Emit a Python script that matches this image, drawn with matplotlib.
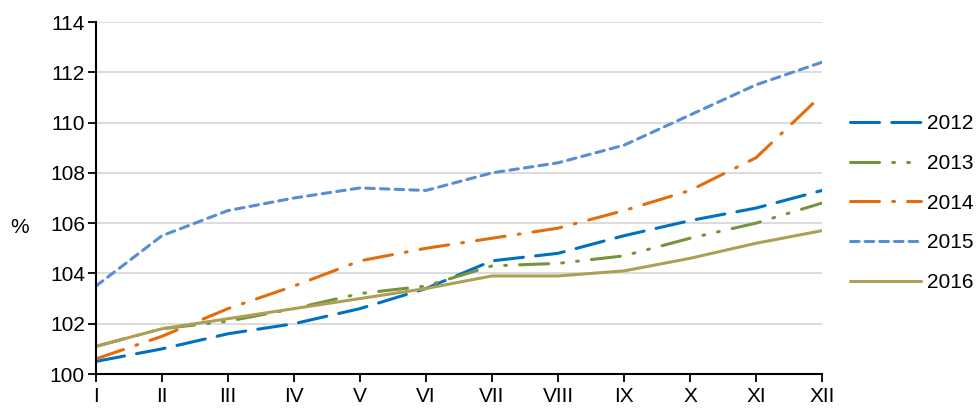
import matplotlib
matplotlib.use('Agg')
import matplotlib.pyplot as plt

plt.rcParams['font.family'] = ['Liberation Sans', 'DejaVu Sans']

# months and index values (%)
months = ['I', 'II', 'III', 'IV', 'V', 'VI', 'VII', 'VIII', 'IX', 'X', 'XI', 'XII']
y2012 = [100.5, 101.0, 101.6, 102.0, 102.6, 103.4, 104.5, 104.8, 105.5, 106.1, 106.6, 107.3]
y2013 = [101.1, 101.8, 102.1, 102.6, 103.2, 103.5, 104.3, 104.4, 104.7, 105.4, 106.0, 106.8]
y2014 = [100.6, 101.5, 102.6, 103.5, 104.5, 105.0, 105.4, 105.8, 106.5, 107.3, 108.6, 111.1]
y2015 = [103.5, 105.5, 106.5, 107.0, 107.4, 107.3, 108.0, 108.4, 109.1, 110.3, 111.5, 112.4]
y2016 = [101.1, 101.8, 102.2, 102.6, 103.0, 103.4, 103.9, 103.9, 104.1, 104.6, 105.2, 105.7]
years = ['2012', '2013', '2014', '2015', '2016']

series = [y2012, y2013, y2014, y2015, y2016]
colors = ['#0070C0', '#77933C', '#E46C0A', '#558ED5', '#AD9F55']
dashes = [(9.5, 4.0), (9.5, 4.3, 0.6, 4.3, 0.6, 4.3), (9.5, 4.3, 0.6, 4.3), (2.8, 2.0), None]

fig = plt.figure(figsize=(9.78, 4.08), dpi=100)
ax = fig.add_axes([96/978, 1-374/408, (822-96)/978, (374-22)/408])

x = list(range(len(months)))
for vals, col, d, lab in zip(series, colors, dashes, years):
    line, = ax.plot(x, vals, color=col, lw=2.2, label=lab,
                    solid_capstyle='round', dash_capstyle='round')
    if d is not None:
        line.set_dashes(d)

ax.set_xlim(0, 11)
ax.set_ylim(100, 114)
ax.set_yticks(range(100, 115, 2))
ax.set_xticks(x)
ax.set_xticklabels(months)
ax.tick_params(labelsize=15, length=6, width=1.3, pad=2, direction='out')
ax.tick_params(axis='x', pad=3)
ax.yaxis.grid(True, color='#D9D9D9', lw=1.3)
ax.set_axisbelow(True)
for s in ['top', 'right']:
    ax.spines[s].set_visible(False)
for s in ['left', 'bottom']:
    ax.spines[s].set_linewidth(1.5)
ax.set_ylabel('%', rotation=0, fontsize=15, va='center', ha='center')
ax.yaxis.set_label_coords(-0.105, 0.415)

ax.legend(loc='upper left', bbox_to_anchor=(850/978, 1-114/408), bbox_transform=fig.transFigure,
          frameon=False, fontsize=15, handlelength=3.4, handletextpad=0.3, labelspacing=1.0,
          borderaxespad=0, borderpad=0)

fig.savefig('out.png', dpi=100)
